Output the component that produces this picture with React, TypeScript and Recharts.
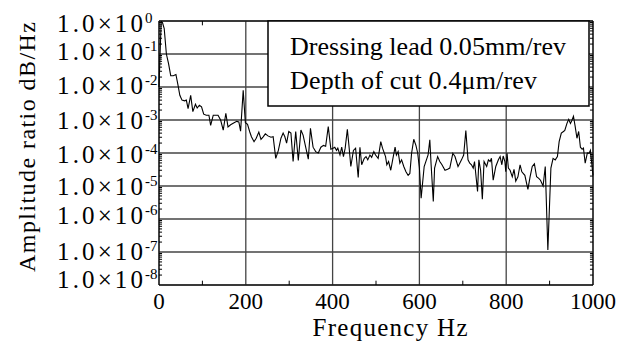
import { LineChart, Line, XAxis, YAxis, CartesianGrid, ReferenceLine } from 'recharts'

// spectrum (Hz / amplitude ratio)
const freqHz = [
  0, 5, 8, 12, 17, 22, 27, 33, 39, 44, 48, 53, 59, 63, 67, 73, 78, 84, 88, 93,
  98, 103, 109, 115, 119, 125, 131, 136, 142, 148, 154, 159, 165, 172, 179, 184, 188, 194, 199, 204,
  209, 213, 219, 224, 230, 235, 240, 245, 251, 258, 263, 269, 275, 281, 286, 290, 294, 299, 304, 309,
  315, 321, 327, 332, 338, 344, 349, 355, 361, 367, 373, 379, 384, 390, 396, 401, 405, 409, 412, 417,
  421, 425, 429, 434, 438, 442, 448, 453, 459, 463, 467, 473, 477, 481, 486, 490, 495, 499, 505, 511,
  515, 522, 525, 529, 534, 539, 544, 547, 551, 555, 559, 564, 569, 574, 578, 582, 587, 592, 596, 600,
  604, 611, 620, 624, 627, 632, 635, 642, 647, 652, 659, 665, 670, 677, 682, 689, 693, 697, 702, 707,
  712, 716, 720, 724, 727, 734, 737, 741, 745, 749, 755, 759, 763, 766, 770, 776, 782, 786, 790, 793,
  797, 799, 802, 805, 809, 814, 818, 822, 827, 832, 836, 843, 850, 855, 860, 865, 870, 875, 879, 885,
  890, 896, 903, 908, 913, 918, 922, 927, 932, 935, 940, 944, 948, 951, 955, 959, 963, 967, 971, 975,
  978, 982, 987, 991, 994, 1000,
]
const amplitude = [
  1.0e-2, 0.98, 0.9, 0.59, 0.1, 5.1e-2, 2.2e-2, 2.2e-2, 2.4e-2, 1.1e-2, 5.6e-3, 4.0e-3, 3.8e-3, 4.0e-3, 2.2e-3, 5.6e-3, 1.8e-3, 3.0e-3, 2.3e-3, 2.8e-3,
  2.5e-3, 1.5e-3, 1.4e-3, 1.4e-3, 6.9e-4, 1.4e-3, 1.4e-3, 1.4e-3, 1.0e-3, 4.9e-4, 1.6e-3, 6.2e-4, 7.2e-4, 8.1e-4, 9.1e-4, 8.7e-4, 4.6e-4, 7.9e-3, 8.3e-4, 7.4e-4,
  4.4e-4, 3.1e-4, 2.2e-4, 2.8e-4, 4.3e-4, 2.6e-4, 3.1e-4, 3.8e-4, 3.3e-4, 3.0e-4, 3.1e-4, 6.9e-5, 1.2e-4, 2.8e-4, 4.0e-4, 3.1e-4, 2.0e-4, 4.5e-4, 4.0e-4, 5.5e-5,
  4.5e-4, 5.9e-5, 5.0e-4, 3.5e-4, 1.5e-4, 6.5e-5, 5.6e-4, 1.5e-4, 1.1e-4, 1.0e-4, 1.5e-4, 1.7e-4, 1.6e-4, 6.3e-4, 1.3e-4, 1.4e-4, 1.5e-4, 1.2e-4, 1.4e-4, 8.7e-5,
  1.5e-4, 7.8e-5, 1.4e-4, 5.2e-4, 1.5e-4, 3.9e-5, 1.2e-4, 1.4e-4, 1.8e-5, 1.5e-4, 4.4e-5, 6.9e-5, 7.8e-5, 6.2e-5, 8.7e-5, 7.4e-5, 1.1e-4, 8.7e-5, 6.9e-5, 2.2e-4,
  1.4e-4, 7.8e-5, 4.4e-5, 5.5e-5, 3.0e-5, 6.9e-5, 1.5e-4, 8.7e-5, 1.1e-4, 4.9e-5, 6.2e-5, 3.9e-5, 2.7e-5, 2.1e-5, 2.4e-5, 9.8e-5, 2.6e-4, 1.7e-4, 1.0e-4, 3.5e-5,
  4.3e-6, 3.9e-5, 8.7e-5, 2.5e-4, 4.4e-5, 3.4e-6, 3.5e-5, 7.8e-5, 5.5e-5, 4.4e-5, 3.0e-5, 3.2e-5, 3.5e-5, 9.8e-5, 7.8e-5, 3.9e-5, 4.9e-5, 6.2e-5, 8.7e-5, 4.8e-4,
  6.2e-5, 4.9e-5, 4.4e-5, 3.5e-5, 5.5e-5, 6.8e-6, 6.2e-5, 3.0e-5, 4.0e-6, 5.5e-5, 3.9e-5, 6.2e-5, 5.5e-5, 6.9e-5, 1.5e-5, 3.9e-5, 6.2e-5, 7.8e-5, 4.4e-5, 8.1e-5,
  5.5e-5, 2.7e-5, 9.8e-5, 3.5e-5, 3.0e-5, 1.9e-5, 3.2e-5, 1.4e-5, 1.9e-5, 4.4e-5, 2.7e-5, 2.1e-5, 7.9e-6, 1.9e-5, 3.9e-5, 4.7e-5, 1.9e-5, 1.7e-5, 1.5e-5, 1.0e-5,
  3.9e-5, 1.15e-7, 3.5e-5, 6.9e-5, 6.2e-5, 7.8e-5, 2.2e-4, 4.0e-4, 4.5e-4, 4.8e-4, 7.9e-4, 1.05e-3, 7.9e-4, 9.5e-4, 1.3e-3, 6.3e-4, 2.8e-4, 4.5e-4, 1.5e-4, 1.3e-4,
  1.4e-4, 4.9e-5, 1.0e-4, 9.8e-5, 1.2e-4, 2.1e-5,
]
const xTicks = [0, 200, 400, 600, 800, 1000]
const xMinorTicks = [100, 300, 500, 700, 900]
const yExponents = [0, -1, -2, -3, -4, -5, -6, -7, -8]
const legendLines = ['Dressing lead 0.05mm/rev', 'Depth of cut 0.4μm/rev']
const xTitle = 'Frequency  Hz'
const yTitle = 'Amplitude  ratio dB/Hz'

const data = freqHz.map((f, i) => ({ f, amp: amplitude[i] }))
const yTicks = yExponents.map((e) => 10 ** e)
const yMinor: number[] = []
yExponents.slice(1).forEach((e) => {
  for (let k = 2; k <= 9; k++) yMinor.push(k * 10 ** e)
})

const FONT = 'Liberation Serif, Times New Roman, Times, serif'
const serif = { fontFamily: FONT }
// small nudges so labels sit where the original put them
const labelShift: Record<number, number> = { 0: 11, [-1]: 6, [-2]: 7, [-3]: 9, [-4]: 10, [-5]: 9, [-6]: 5, [-7]: 8, [-8]: 3 }

function PowerTick(props: any) {
  const { y, payload } = props
  const exp = Math.round(Math.log10(payload.value))
  const base = y + (labelShift[exp] ?? 8)
  return (
    <g fill="#000">
      <text
        x={57}
        y={base}
        fontSize={25}
        textAnchor="start"
        textLength={86}
        lengthAdjust="spacing"
        style={serif}
      >
        1.0×10
      </text>
      <text x={145} y={base - 9} fontSize={15} textAnchor="start" style={serif}>
        {exp}
      </text>
    </g>
  )
}

export default function App() {
  return (
    <div style={{ position: 'absolute', left: 0, top: 0, width: 633, height: 345, background: '#fff', ...serif }}>
      <LineChart width={633} height={345} data={data} margin={{ top: 21, right: 40, bottom: 0, left: 0 }}>
        <CartesianGrid stroke="#444" strokeWidth={1.3} />
        <XAxis
          dataKey="f"
          type="number"
          domain={[0, 1000]}
          ticks={xTicks}
          tickLine={false}
          axisLine={{ stroke: '#000' }}
          height={60}
          tick={{ fontSize: 23, fill: '#000', fontFamily: FONT, style: serif }}
        />
        <YAxis
          scale="log"
          domain={[1e-8, 1]}
          ticks={yTicks}
          allowDataOverflow
          width={159}
          tickLine={false}
          axisLine={{ stroke: '#000' }}
          tick={<PowerTick />}
        />
        <ReferenceLine y={1} stroke="#000" />
        <ReferenceLine x={1000} stroke="#000" />
        {xMinorTicks.map((x) => (
          <ReferenceLine key={'b' + x} segment={[{ x, y: 1e-8 }, { x, y: 1.35e-8 }]} stroke="#000" />
        ))}
        {xMinorTicks.map((x) => (
          <ReferenceLine key={'t' + x} segment={[{ x, y: 1 }, { x, y: 0.74 }]} stroke="#000" />
        ))}
        {yMinor.map((y) => (
          <ReferenceLine key={'l' + y} segment={[{ x: 0, y }, { x: 7, y }]} stroke="#000" />
        ))}
        {yMinor.map((y) => (
          <ReferenceLine key={'r' + y} segment={[{ x: 993, y }, { x: 1000, y }]} stroke="#000" />
        ))}
        <Line
          type="linear"
          dataKey="amp"
          stroke="#000"
          strokeWidth={1.1}
          dot={false}
          isAnimationActive={false}
        />
      </LineChart>
      <svg width={633} height={345} style={{ position: 'absolute', left: 0, top: 0, pointerEvents: 'none' }}>
        <rect x={268} y={21} width={321} height={85} fill="#fff" stroke="#000" strokeWidth={1.5} />
        <text x={290} y={55} fontSize={26} textLength={276} lengthAdjust="spacing" style={serif}>
          {legendLines[0]}
        </text>
        <text x={290} y={89} fontSize={26} textLength={247} lengthAdjust="spacing" style={serif}>
          {legendLines[1]}
        </text>
        <text
          x={390}
          y={336}
          fontSize={25}
          textAnchor="middle"
          textLength={155}
          lengthAdjust="spacing"
          style={serif}
        >
          {xTitle}
        </text>
        <text
          x={0}
          y={0}
          fontSize={24}
          textAnchor="middle"
          textLength={250}
          lengthAdjust="spacing"
          transform="translate(35 147) rotate(-90)"
          style={serif}
        >
          {yTitle}
        </text>
      </svg>
    </div>
  )
}
